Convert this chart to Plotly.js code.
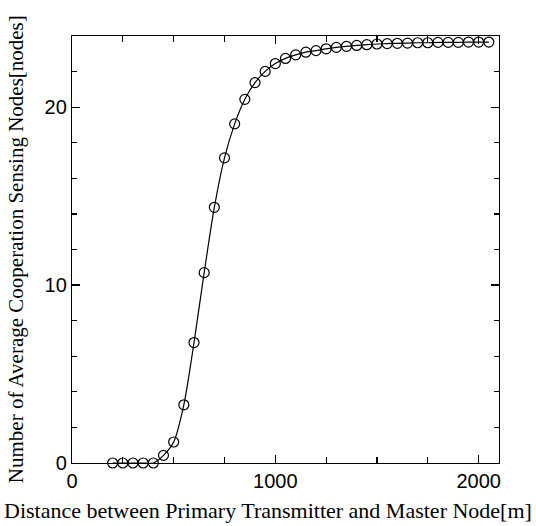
<!DOCTYPE html>
<html>
<head>
<meta charset="utf-8">
<script src="https://cdn.plot.ly/plotly-3.0.1.min.js"></script>
<style>html,body{margin:0;padding:0;background:#fff;}#chart{width:536px;height:526px;}</style>
</head>
<body>
<div id="chart"></div>
<script>
var distance = [200,250,300,350,400,450,500,550,600,650,700,750,800,850,900,950,1000,1050,1100,1150,1200,1250,1300,1350,1400,1450,1500,1550,1600,1650,1700,1750,1800,1850,1900,1950,2000,2050];
var avgNodes = [0,0,0,0,0,0.43,1.18,3.27,6.77,10.70,14.37,17.15,19.06,20.44,21.38,22.01,22.45,22.74,22.94,23.09,23.18,23.28,23.36,23.42,23.47,23.51,23.55,23.57,23.59,23.60,23.62,23.62,23.64,23.64,23.64,23.66,23.66,23.66];
var xTickVals = [0,1000,2000];
var yTickVals = [0,10,20];
var xRange = [0, 2100];
var yRange = [0, 24];
var xTitle = "Distance between Primary Transmitter and Master Node[m]";
var yTitle = "Number of Average Cooperation Sensing Nodes[nodes]";

var traces = [
  {x: distance, y: avgNodes, mode: 'lines', type: 'scatter',
   line: {color: '#000', width: 1.2, shape: 'spline', smoothing: 0.8},
   hoverinfo: 'skip', showlegend: false},
  {x: distance, y: avgNodes, mode: 'markers', type: 'scatter', cliponaxis: false,
   marker: {symbol: 'circle-open', size: 10, color: '#000', line: {color: '#000', width: 1.2}},
   showlegend: false},
  {x: [], y: [], xaxis: 'x2', yaxis: 'y2', type: 'scatter', mode: 'markers', showlegend: false, hoverinfo: 'skip'}
];

function axis(extra) {
  return Object.assign({
    showline: true, linecolor: '#000', linewidth: 1.2, mirror: false,
    ticks: 'inside', ticklen: 8, tickwidth: 1.2, tickcolor: '#000',
    showgrid: false, zeroline: false, fixedrange: true,
    tickfont: {family: 'Liberation Sans, Arial, sans-serif', size: 20, color: '#000'}
  }, extra);
}
var xMinor = {dtick: 250, tick0: 0, ticks: 'inside', ticklen: 6, tickwidth: 1.2, tickcolor: '#000', showgrid: false};
var yMinor = {dtick: 2, tick0: 0, ticks: 'inside', ticklen: 5, tickwidth: 1.2, tickcolor: '#000', showgrid: false};

var layout = {
  width: 536, height: 526,
  margin: {l: 72, r: 37, t: 36, b: 63, pad: 0},
  paper_bgcolor: '#fff', plot_bgcolor: '#fff',
  showlegend: false,
  xaxis: axis({range: xRange, tickmode: 'array', tickvals: xTickVals, ticktext: xTickVals.map(String), minor: xMinor}),
  yaxis: axis({range: yRange, tickmode: 'array', tickvals: yTickVals, ticktext: yTickVals.map(String), minor: yMinor}),
  xaxis2: axis({range: xRange, overlaying: 'x', side: 'top', anchor: 'y2', tickmode: 'array', tickvals: xTickVals, showticklabels: false, minor: xMinor}),
  yaxis2: axis({range: yRange, overlaying: 'y', side: 'right', anchor: 'x2', tickmode: 'array', tickvals: yTickVals, showticklabels: false, minor: yMinor}),
  annotations: [
    {text: xTitle, xref: 'paper', yref: 'paper', x: 0.459, y: -0.112, xanchor: 'center', yanchor: 'middle',
     showarrow: false, font: {family: 'Liberation Serif, Times New Roman, serif', size: 22, color: '#000'}},
    {text: yTitle, xref: 'paper', yref: 'paper', x: -0.132, y: 0.5, xanchor: 'center', yanchor: 'middle',
     textangle: -90, showarrow: false, font: {family: 'Liberation Serif, Times New Roman, serif', size: 21, color: '#000'}}
  ]
};

Plotly.newPlot('chart', traces, layout, {staticPlot: true, displayModeBar: false});
</script>
</body>
</html>
